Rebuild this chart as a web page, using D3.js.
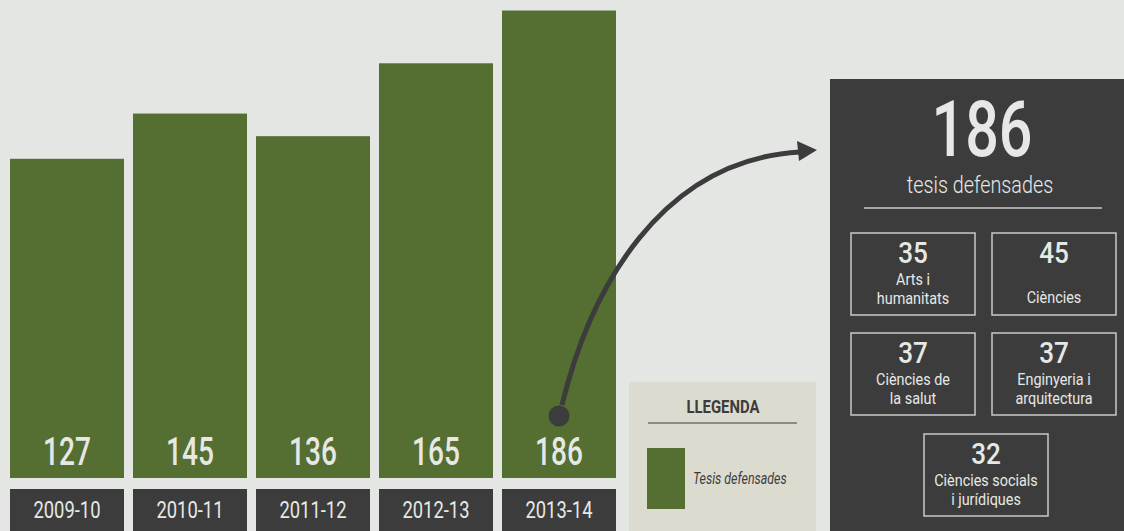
<!DOCTYPE html>
<html>
<head>
<meta charset="utf-8">
<script src="https://cdn.jsdelivr.net/npm/d3@7"></script>
<style>
  html, body { margin: 0; padding: 0; background: #e4e6e4; }
  svg { display: block; }
</style>
</head>
<body>
<div id="chart"></div>
<script>
// data
const years = ['2009-10', '2010-11', '2011-12', '2012-13', '2013-14']
const theses = [127, 145, 136, 165, 186]
const totalLabel = 'tesis defensades'
const areas = ['Arts i|humanitats', 'Ciències', 'Ciències de|la salut', 'Enginyeria i|arquitectura', 'Ciències socials|i jurídiques']
const areaCounts = [35, 45, 37, 37, 32]
const legendTitle = 'LLEGENDA'
const legendItem = 'Tesis defensades'

const width = 1124
const height = 531
const green = '#556e31'
const dark = '#3c3c3c'
const light = '#e6e8e6'

const svg = d3.select('#chart').append('svg')
    .attr('width', width)
    .attr('height', height)

svg.append('rect').attr('width', width).attr('height', height).attr('fill', '#e4e6e4')

// condensed text helper (squeeze horizontally)
function ctext(g, x, y, str, size, sx, o) {
    o = o || {}
    return g.append('text')
        .attr('transform', 'translate(' + x + ',' + y + ') scale(' + sx + ',1)')
        .attr('text-anchor', o.anchor || 'middle')
        .attr('font-family', o.family || 'Roboto, sans-serif')
        .attr('font-size', size)
        .attr('font-weight', o.weight || 400)
        .attr('font-style', o.style || 'normal')
        .attr('fill', o.fill || light)
        .text(str)
}

const x = d3.scaleBand()
    .domain(years)
    .range([10, 616])
    .paddingInner(9 / 123)

const y = d3.scaleLinear()
    .domain([0, 187])
    .range([478, 8])

// bars
const bars = svg.append('g')
bars.selectAll('rect')
    .data(theses)
    .enter()
    .append('rect')
    .attr('x', (d, i) => x(years[i]))
    .attr('y', d => y(d))
    .attr('width', x.bandwidth())
    .attr('height', d => y(0) - y(d))
    .attr('fill', green)

theses.forEach((d, i) => {
    ctext(bars, x(years[i]) + x.bandwidth() / 2, 465, d, 39, 0.72, { weight: 500 })
})

// category boxes (axis)
const axis = svg.append('g')
years.forEach(yr => {
    axis.append('rect')
        .attr('x', x(yr))
        .attr('y', 489)
        .attr('width', x.bandwidth())
        .attr('height', 50)
        .attr('fill', dark)
    ctext(axis, x(yr) + x.bandwidth() / 2, 518, yr, 23, 0.8)
})

// legend
const lg = svg.append('g')
lg.append('rect').attr('x', 629).attr('y', 382).attr('width', 187).attr('height', 160).attr('fill', '#dcdbd0')
ctext(lg, 723, 413, legendTitle, 18, 0.83, { weight: 700, fill: dark })
lg.append('line').attr('x1', 648).attr('x2', 797).attr('y1', 423).attr('y2', 423)
    .attr('stroke', dark).attr('stroke-width', 1.2)
lg.append('rect').attr('x', 647).attr('y', 448).attr('width', 38).attr('height', 61).attr('fill', green)
ctext(lg, 693, 484, legendItem, 17, 0.73, { anchor: 'start', style: 'italic', fill: dark })

// right panel
const last = theses.length - 1
const panel = svg.append('g')
panel.append('rect').attr('x', 830).attr('y', 79).attr('width', 300).attr('height', 460).attr('fill', dark)
ctext(panel, 982, 156, theses[last], 78, 0.76, { weight: 500 })
ctext(panel, 980, 193, totalLabel, 23, 0.86, { weight: 300 })
panel.append('line').attr('x1', 864).attr('x2', 1102).attr('y1', 208).attr('y2', 208)
    .attr('stroke', '#c8c8c8').attr('stroke-width', 1.5)

const boxPos = [[851, 233], [992, 233], [851, 333], [992, 333], [924, 434]]
areas.forEach((a, i) => {
    const bx = boxPos[i][0], by = boxPos[i][1]
    const bw = 124, bh = 82
    panel.append('rect')
        .attr('x', bx).attr('y', by).attr('width', bw).attr('height', bh)
        .attr('fill', 'none').attr('stroke', '#c8c8c8').attr('stroke-width', 1.5)
    const cx = bx + bw / 2
    ctext(panel, cx, by + 30, areaCounts[i], 29, 0.9, { weight: 500 })
    const lines = a.split('|')
    if (lines.length === 1) {
        ctext(panel, cx, by + 70, lines[0], 16, 0.9)
    } else {
        ctext(panel, cx, by + 52, lines[0], 16, 0.9)
        ctext(panel, cx, by + 71, lines[1], 16, 0.9)
    }
})

// arrow from last bar to panel
const bx5 = x(years[last]) + x.bandwidth() / 2
const arrow = svg.append('g')
const path = d3.path()
path.moveTo(bx5 + 3, 405)
path.bezierCurveTo(590, 290, 660, 160, 800, 152)
arrow.append('path')
    .attr('d', path.toString())
    .attr('fill', 'none')
    .attr('stroke', dark)
    .attr('stroke-width', 5)
arrow.append('path')
    .attr('d', 'M797,141 L817,150 L799,161 Z')
    .attr('fill', dark)
arrow.append('circle').attr('cx', bx5).attr('cy', 416).attr('r', 10.5).attr('fill', dark)
</script>
</body>
</html>
